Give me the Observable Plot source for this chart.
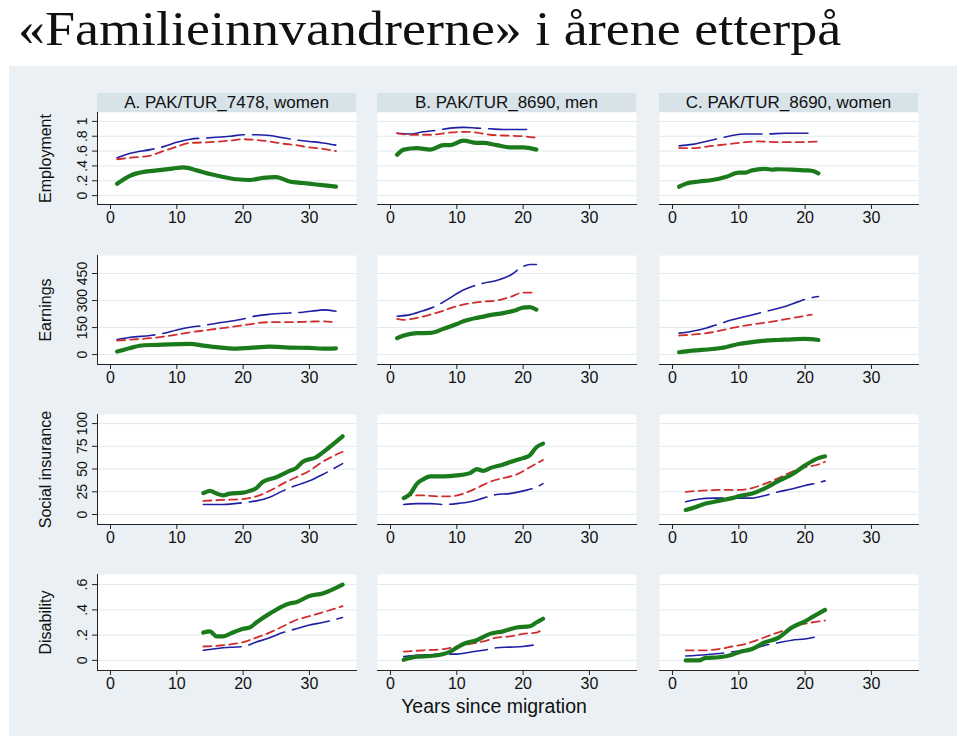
<!DOCTYPE html>
<html><head><meta charset="utf-8">
<script src="https://cdn.jsdelivr.net/npm/d3@7"></script>
<script src="https://cdn.jsdelivr.net/npm/@observablehq/plot@0.6"></script>
<style>
body{margin:0;background:#fff;width:960px;height:741px;position:relative;overflow:hidden;font-family:"Liberation Sans",Arial,sans-serif;}
#title{position:absolute;left:18px;top:1px;font-family:"Liberation Serif","Times New Roman",serif;font-size:48px;color:#111;white-space:nowrap;line-height:normal;transform-origin:0 0;transform:scaleX(1.125)}
#bg{position:absolute;left:9px;top:66px;width:948px;height:670px;background:#eaf0f3}
.strip{position:absolute;height:19px;background:#d8e2e9;font-size:17px;text-align:center;line-height:20px;color:#111;white-space:nowrap}
.cell{position:absolute}
#xlab{position:absolute;left:494px;top:695px;transform:translateX(-50%);font-size:19.5px;color:#111;white-space:nowrap}
</style></head><body>
<div id="title"></div>
<div id="bg"></div>
<div id="xlab"></div>
<script>
// ---------- data ----------
const chartTitle = "«Familieinnvandrerne» i årene etterpå";
const columnTitles = ["A. PAK/TUR_7478, women", "B. PAK/TUR_8690, men", "C. PAK/TUR_8690, women"];
const rowTitles = ["Employment", "Earnings", "Social insurance", "Disability"];
const xTitle = "Years since migration";
const xTicks = [0, 10, 20, 30];

const empTicks = [0, .2, .4, .6, .8, 1];
const empLabels = ["0", ".2", ".4", ".6", ".8", "1"];
const earnTicks = [0, 150, 300, 450];
const earnLabels = ["0", "150", "300", "450"];
const socTicks = [0, 25, 50, 75, 100];
const socLabels = ["0", "25", "50", "75", "100"];
const disTicks = [0, .2, .4, .6];
const disLabels = ["0", ".2", ".4", ".6"];

// [years since migration, value]
const empA_green = [[1,.16],[3,.27],[5,.32],[7,.34],[9,.36],[11,.38],[13,.34],[15,.29],[17,.25],[19,.22],[21,.21],[23,.24],[25,.25],[27,.19],[29,.17],[31,.15],[33,.13],[34,.12]];
const empA_red = [[1,.49],[3,.51],[6,.54],[8,.60],[10,.66],[12,.71],[15,.72],[18,.74],[20,.76],[22,.75],[24,.73],[26,.70],[28,.68],[30,.65],[32,.63],[34,.60]];
const empA_blue = [[1,.51],[3,.57],[6,.62],[8,.66],[10,.72],[12,.76],[15,.78],[18,.80],[20,.82],[22,.82],[24,.81],[26,.78],[28,.75],[30,.73],[32,.71],[34,.68]];

const empB_green = [[1,.55],[2,.62],[4,.64],[6,.62],[8,.68],[9,.68],[11,.74],[13,.71],[14,.71],[16,.68],[18,.65],[20,.65],[22,.62]];
const empB_red = [[1,.84],[3,.82],[6,.82],[9,.85],[11,.86],[13,.85],[15,.82],[17,.81],[20,.80],[22,.78]];
const empB_blue = [[1,.84],[3,.83],[5,.86],[7,.88],[9,.91],[11,.92],[13,.91],[15,.90],[17,.89],[21,.89]];

const empC_green = [[1,.12],[2,.16],[4,.19],[6,.21],[8,.25],[10,.31],[11,.31],[12,.34],[14,.36],[15,.35],[16,.355],[18,.35],[20,.34],[21,.335],[22,.30]];
const empC_red = [[1,.64],[3,.64],[6,.67],[9,.70],[11,.72],[13,.73],[16,.72],[19,.72],[22,.73]];
const empC_blue = [[1,.67],[3,.69],[5,.73],[7,.77],[9,.81],[11,.83],[14,.83],[17,.84],[21,.84]];

const earnA_green = [[1,17],[3,37],[5,52],[7,54],[9,57],[12,59],[14,50],[16,41],[19,33],[21,37],[24,44],[27,39],[30,37],[32,33],[34,35]];
const earnA_red = [[1,78],[3,83],[6,91],[8,100],[10,111],[12,124],[14,133],[16,143],[18,152],[20,163],[22,174],[24,180],[27,180],[30,183],[32,185],[34,178]];
const earnA_blue = [[1,83],[3,96],[6,106],[8,118],[10,137],[12,152],[14,161],[16,174],[18,185],[20,198],[22,215],[24,224],[27,231],[29,235],[31,244],[32,248],[34,241]];

const earnB_green = [[1,91],[2,106],[4,119],[6,120],[8,143],[10,170],[11,185],[13,204],[14,211],[15,219],[17,230],[19,248],[20,261],[21,263],[22,250]];
const earnB_red = [[1,198],[2,193],[4,204],[6,222],[8,244],[10,269],[12,285],[14,294],[16,300],[18,319],[20,344],[22,344]];
const earnB_blue = [[1,213],[3,222],[5,244],[7,272],[9,315],[11,359],[12,374],[14,396],[16,411],[18,439],[20,489],[21,500],[22,500]];

const earnC_green = [[1,13],[3,22],[6,31],[8,41],[10,59],[12,69],[14,78],[16,81],[18,85],[20,87],[22,81]];
const earnC_red = [[1,106],[3,111],[6,124],[9,148],[12,167],[15,183],[18,202],[21,222]];
const earnC_blue = [[1,119],[3,130],[5,146],[7,170],[9,193],[11,211],[13,230],[15,248],[17,267],[19,294],[20,307],[22,322]];

const socA_green = [[14,23.5],[15,26],[16,23],[17,21],[18,23],[20,24],[21,26],[22,29],[23,36],[25,41],[27,48],[28,51],[29,58],[31,63],[33,74],[35,86]];
const socA_red = [[14,15],[17,16],[20,17],[22,20],[24,26],[26,34],[28,41],[30,48],[32,58],[35,69]];
const socA_blue = [[14,11],[17,11],[20,13],[22,15],[24,19],[26,26],[28,32],[30,37],[32,44],[35,56]];

const socB_green = [[2,18],[3,23],[4,34],[5,39],[6,42],[8,42],[10,43],[12,45.5],[13,50],[14,48],[15,51],[17,55],[19,60],[20,62],[21,65],[22,74],[23,78]];
const socB_red = [[2,18],[3,21],[5,21],[7,20],[9,20],[11,23],[13,29],[15,36],[17,40],[19,44],[21,52],[23,60]];
const socB_blue = [[2,11],[4,12],[6,12],[8,11],[10,12],[12,14],[14,18],[16,22],[18,23],[20,26],[22,30],[23,34]];

const socC_green = [[2,5],[3,7],[5,12],[7,15],[9,18],[10,20],[12,23],[14,29],[16,37],[18,44],[20,54],[22,62],[23,64]];
const socC_red = [[2,25],[4,26],[7,27],[10,27],[12,29],[14,34],[16,40],[18,47],[20,52],[22,55],[23,58]];
const socC_blue = [[2,14],[4,17],[6,18],[8,18],[10,18],[12,18],[14,21],[16,25],[18,28],[20,32],[22,35],[23,37]];

const disA_green = [[14,.22],[15,.23],[16,.19],[17,.19],[18,.21],[20,.25],[21,.26],[22,.30],[24,.37],[26,.43],[27,.45],[28,.46],[30,.51],[32,.53],[33,.55],[35,.60]];
const disA_red = [[14,.11],[17,.12],[20,.145],[22,.18],[24,.22],[26,.27],[28,.32],[30,.35],[32,.38],[35,.43]];
const disA_blue = [[14,.08],[17,.10],[20,.11],[22,.145],[24,.18],[26,.22],[28,.25],[30,.28],[32,.30],[35,.34]];

const disB_green = [[2,.005],[4,.03],[6,.035],[8,.05],[9,.07],[11,.13],[13,.16],[15,.21],[17,.23],[19,.26],[21,.27],[22,.30],[23,.33]];
const disB_red = [[2,.07],[5,.08],[8,.09],[10,.11],[12,.13],[14,.15],[16,.18],[18,.19],[20,.21],[22,.22],[23,.25]];
const disB_blue = [[2,.03],[4,.04],[6,.045],[8,.05],[10,.05],[12,.065],[14,.08],[16,.10],[18,.105],[20,.11],[22,.125]];

const disC_green = [[2,0],[4,0],[5,.02],[7,.025],[9,.045],[10,.065],[12,.09],[14,.145],[16,.18],[17,.22],[18,.26],[20,.31],[21,.34],[23,.40]];
const disC_red = [[2,.08],[5,.08],[7,.09],[9,.11],[11,.13],[13,.165],[15,.205],[17,.24],[19,.28],[21,.30],[23,.315]];
const disC_blue = [[2,.035],[5,.045],[8,.06],[10,.075],[12,.09],[14,.12],[16,.14],[18,.16],[20,.17],[22,.19]];

// ---------- layout ----------
const rows = [
  {title: rowTitles[0], ticks: empTicks, labels: empLabels, domain: [-0.12, 1.12], top: 112, bottom: 204,
   series: [[empA_blue, empA_red, empA_green], [empB_blue, empB_red, empB_green], [empC_blue, empC_red, empC_green]]},
  {title: rowTitles[1], ticks: earnTicks, labels: earnLabels, domain: [-55, 550], top: 255, bottom: 364,
   series: [[earnA_blue, earnA_red, earnA_green], [earnB_blue, earnB_red, earnB_green], [earnC_blue, earnC_red, earnC_green]]},
  {title: rowTitles[2], ticks: socTicks, labels: socLabels, domain: [-11, 110], top: 414, bottom: 524,
   series: [[socA_blue, socA_red, socA_green], [socB_blue, socB_red, socB_green], [socC_blue, socC_red, socC_green]]},
  {title: rowTitles[3], ticks: disTicks, labels: disLabels, domain: [-0.08, 0.68], top: 574, bottom: 670,
   series: [[disA_blue, disA_red, disA_green], [disB_blue, disB_red, disB_green], [disC_blue, disC_red, disC_green]]}
];
const colLefts = [97, 377, 659];
const frameW = 259;
const gridColor = "#e2e9ee";
const styles = [
  {stroke: "#1f1fa3", strokeWidth: 1.6, strokeDasharray: "38,8"},
  {stroke: "#cf2e2e", strokeWidth: 1.8, strokeDasharray: "8,5"},
  {stroke: "#1b7a1b", strokeWidth: 4.2, strokeLinecap: "round", strokeLinejoin: "round"}
];

document.getElementById("title").textContent = chartTitle;
document.getElementById("xlab").textContent = xTitle;

columnTitles.forEach((t, i) => {
  const d = document.createElement("div");
  d.className = "strip";
  d.style.left = colLefts[i] + "px";
  d.style.top = "93px";
  d.style.width = frameW + "px";
  d.textContent = t;
  document.body.appendChild(d);
});

rows.forEach((r, ri) => {
  colLefts.forEach((left, ci) => {
    const ml = ci === 0 ? 72 : 6, mt = 4, mb = 28, mr = 4;
    const fh = r.bottom - r.top;
    const marks = [
      Plot.frame({fill: "white", stroke: null}),
      Plot.gridY(r.ticks, {stroke: gridColor, strokeOpacity: 1}),
      Plot.frame({anchor: "bottom", stroke: "#222"}),
      Plot.axisX(xTicks, {tickSize: 5, tickPadding: 2, fontSize: 16, label: null, stroke: "#222"})
    ];
    if (ci === 0) {
      marks.push(
        Plot.frame({anchor: "left", stroke: "#222"}),
        Plot.axisY(r.ticks, {tickSize: 5, tickFormat: () => "", label: null, stroke: "#222"}),
        Plot.text(r.ticks, {y: d => d, text: (d, i) => r.labels[i], frameAnchor: "left", textAnchor: "middle", dx: -15, rotate: -90, fontSize: 14}),
        Plot.text([r.title], {text: d => d, frameAnchor: "left", textAnchor: "middle", dx: -52, rotate: -90, fontSize: 16})
      );
    }
    r.series[ci].forEach((s, si) => {
      marks.push(Plot.line(s, {x: d => d[0], y: d => d[1], curve: "monotone-x", ...styles[si]}));
    });
    const chart = Plot.plot({
      width: ml + frameW + mr,
      height: mt + fh + mb,
      marginLeft: ml, marginRight: mr, marginTop: mt, marginBottom: mb,
      x: {domain: [-1.96, 37.1]},
      y: {domain: r.domain, axis: ci === 0 ? undefined : null},
      style: {background: "transparent", color: "#111", fontFamily: "'Liberation Sans', Arial, sans-serif", overflow: "visible"},
      marks
    });
    chart.classList.add("cell");
    chart.style.left = (left - ml) + "px";
    chart.style.top = (r.top - mt) + "px";
    document.body.appendChild(chart);
  });
});
</script>
</body></html>
